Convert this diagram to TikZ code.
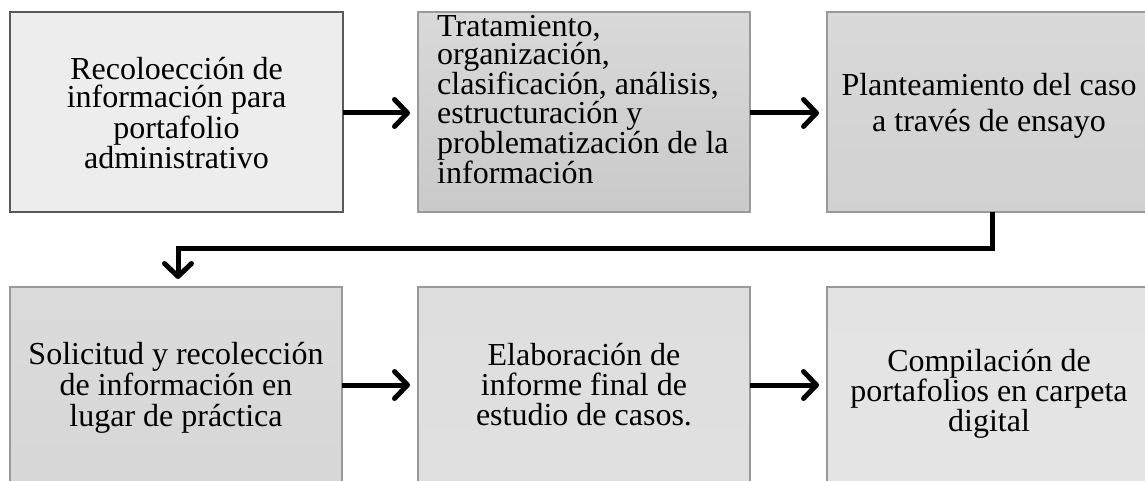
\documentclass[tikz,border=0pt]{standalone}
\usepackage{fontspec}
\setmainfont{Liberation Serif}
\usetikzlibrary{arrows.meta}
\begin{document}
\begin{tikzpicture}[x=1pt,y=-1pt,
  box/.style={draw=#1, line width=1.2pt, inner sep=0pt},
  txt/.style={font=\fontsize{32}{28}\selectfont, align=center, inner sep=0pt},
  conn/.style={line width=5pt, -{Straight Barb[length=13pt,width=27pt,line width=0pt 1, line cap=round, line join=round]}}
]
\useasboundingbox (0,0) rectangle (1145,481);
\clip (0,0) rectangle (1145,481);
% row 1
\path[box=black!65, fill=black!7] (10,12) rectangle (343,212);
\path[box=black!40, top color=black!15, bottom color=black!21] (418,12) rectangle (750,212);
\path[box=black!40, top color=black!15, bottom color=black!18] (827,12) rectangle (1152,212);
% row 2
\path[box=black!40, top color=black!14, bottom color=black!16] (10,287) rectangle (342,500);
\path[box=black!40, top color=black!13, bottom color=black!12] (418,287) rectangle (750,500);
\path[box=black!40, top color=black!11, bottom color=black!10] (827,287) rectangle (1152,500);

% anchors for connectors
\coordinate (b1e) at (343,113);
\coordinate (b2w) at (410,113);
\coordinate (b2e) at (750,113);
\coordinate (b3w) at (819,113);
\coordinate (b3s) at (992,212);
\coordinate (b4n) at (178,279);
\coordinate (b4e) at (342,385);
\coordinate (b5w) at (410,385);
\coordinate (b5e) at (750,385);
\coordinate (b6w) at (819,385);

% texts
\node[txt] (t1) at (176.5,113) {Recoloección de\\información para\\portafolio\\administrativo};
\node[txt, font=\fontsize{32}{26}\selectfont, align=left, anchor=north west] (t2) at (437,15) {Tratamiento,\\organización,\\clasificación, análisis,\\estructuración y\\problematización de la\\información};
\node[txt, font=\fontsize{32}{36}\selectfont] (t3) at (989,106) {Planteamiento del caso\\a través de ensayo};
\node[txt, font=\fontsize{32}{31}\selectfont] (t4) at (176,388) {Solicitud y recolección\\de información en\\lugar de práctica};
\node[txt, font=\fontsize{32}{30}\selectfont] (t5) at (584,385) {Elaboración de\\informe final de\\estudio de casos.};
\node[txt, font=\fontsize{32}{29}\selectfont] (t6) at (989,394) {Compilación de\\portafolios en carpeta\\digital};

% connectors
\draw[conn] (b1e) -- (b2w);
\draw[conn] (b2e) -- (b3w);
\draw[conn] (b3s) -- (992,248) -- (178,248) -- (b4n);
\draw[conn] (b4e) -- (b5w);
\draw[conn] (b5e) -- (b6w);
\end{tikzpicture}
\end{document}
